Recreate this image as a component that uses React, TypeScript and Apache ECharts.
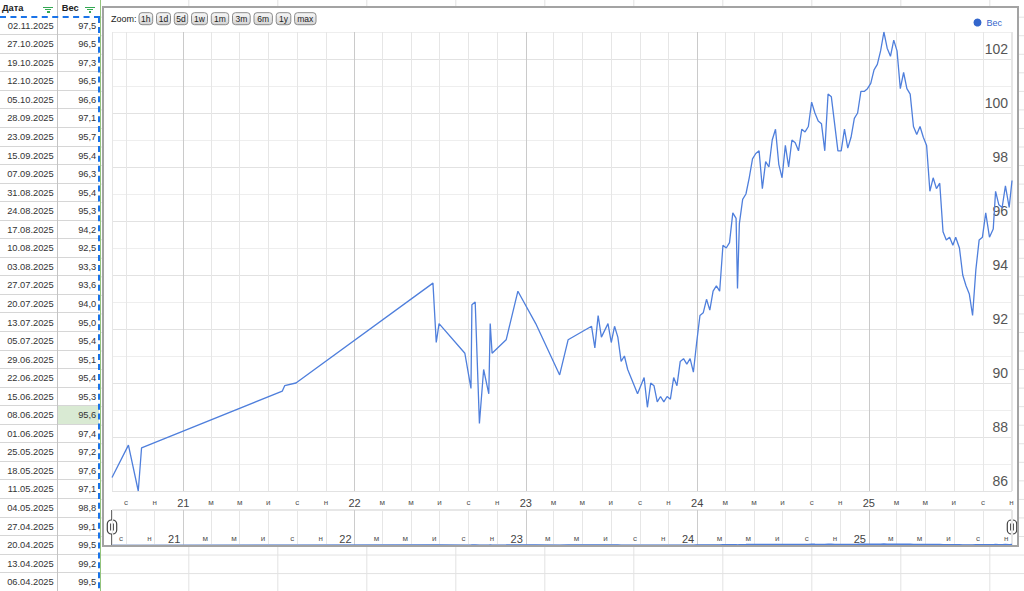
import React, { useEffect, useRef } from "react";
import * as echarts from "echarts";

const FONT = 'Arial, "Liberation Sans", sans-serif';

// точки по годам (дата, вес)
const dates2020 = ["2020-08-02", "2020-09-06", "2020-09-27", "2020-10-04"];
const weights2020 = [86.5, 87.7, 86.0, 87.6];

const dates2021 = ["2021-07-31", "2021-08-05", "2021-08-29"];
const weights2021 = [89.7, 89.9, 90.0];

const dates2022 = [
    "2022-06-17", "2022-06-24", "2022-06-30", "2022-08-24", "2022-09-06", "2022-09-08", "2022-09-15",
    "2022-09-24", "2022-10-03", "2022-10-14", "2022-10-17", "2022-10-21", "2022-11-20", "2022-12-15",
];
const weights2022 = [93.7, 91.5, 92.2, 91.1, 89.8, 92.9, 93.0, 88.5, 90.5, 89.6, 92.2, 91.1, 91.6, 93.4];

const dates2023 = [
    "2023-01-22", "2023-03-14", "2023-04-01", "2023-05-21", "2023-05-28", "2023-06-04", "2023-06-11",
    "2023-06-25", "2023-07-02", "2023-07-09", "2023-07-16", "2023-07-23", "2023-07-30", "2023-08-06",
    "2023-08-27", "2023-09-10", "2023-09-17", "2023-09-24", "2023-10-01", "2023-10-08", "2023-10-15",
    "2023-10-22", "2023-10-29", "2023-11-05", "2023-11-12", "2023-11-19", "2023-11-26", "2023-12-03",
    "2023-12-10", "2023-12-17", "2023-12-24", "2023-12-31",
];
const weights2023 = [
    92.2, 90.3, 91.6, 92.1, 91.3, 92.5, 91.7, 92.2, 91.5, 92.1, 91.7, 90.8, 91.0, 90.5, 89.6, 90.2,
    89.1, 90.0, 89.9, 89.3, 89.5, 89.3, 89.5, 89.4, 90.2, 89.9, 90.8, 90.9, 90.7, 90.9, 90.4, 91.5,
];

const dates2024 = [
    "2024-01-07", "2024-01-14", "2024-01-21", "2024-01-28", "2024-02-04", "2024-02-11", "2024-02-18",
    "2024-02-25", "2024-03-03", "2024-03-10", "2024-03-17", "2024-03-24", "2024-03-27", "2024-03-31",
    "2024-04-07", "2024-04-14", "2024-04-21", "2024-04-28", "2024-05-05", "2024-05-12", "2024-05-19",
    "2024-05-26", "2024-06-02", "2024-06-09", "2024-06-16", "2024-06-23", "2024-06-30", "2024-07-07",
    "2024-07-14", "2024-07-21", "2024-07-28", "2024-08-04", "2024-08-11", "2024-08-18", "2024-08-25",
    "2024-09-01", "2024-09-08", "2024-09-15", "2024-09-22", "2024-09-29", "2024-10-06", "2024-10-13",
    "2024-10-20", "2024-10-27", "2024-11-03", "2024-11-10", "2024-11-17", "2024-11-24", "2024-12-01",
    "2024-12-08", "2024-12-15", "2024-12-22", "2024-12-29",
];
const weights2024 = [
    92.5, 92.6, 93.1, 92.7, 93.4, 93.6, 93.4, 95.1, 95.0, 95.2, 96.3, 96.1, 93.5, 95.9, 96.8, 97.0,
    97.6, 98.3, 98.5, 98.6, 97.2, 98.2, 98.0, 99.0, 99.4, 98.1, 97.6, 98.8, 98.0, 99.0, 98.9, 98.6,
    99.4, 99.3, 99.5, 100.4, 100.0, 99.7, 99.6, 98.6, 100.7, 100.6, 99.6, 98.6, 98.6, 99.4, 98.7,
    99.1, 99.8, 100.0, 100.8, 100.8, 100.9,
];

const dates2025 = [
    "2025-01-05", "2025-01-12", "2025-01-19", "2025-01-26", "2025-02-02", "2025-02-09", "2025-02-16",
    "2025-02-23", "2025-03-02", "2025-03-09", "2025-03-16", "2025-03-23", "2025-03-30",
    "2025-04-06", "2025-04-13", "2025-04-20", "2025-04-27", "2025-05-04", "2025-05-11", "2025-05-18",
    "2025-05-25", "2025-06-01", "2025-06-08", "2025-06-15", "2025-06-22", "2025-06-29", "2025-07-05",
    "2025-07-13", "2025-07-20", "2025-07-27", "2025-08-03", "2025-08-10", "2025-08-17", "2025-08-24",
    "2025-08-31", "2025-09-07", "2025-09-15", "2025-09-23", "2025-09-28", "2025-10-05", "2025-10-12",
    "2025-10-19", "2025-10-27", "2025-11-02",
];
const weights2025 = [
    101.1, 101.6, 101.8, 102.3, 103.0, 102.4, 102.1, 102.7, 102.3, 100.9, 101.5, 100.9, 100.7,
    99.5, 99.2, 99.5, 99.1, 98.8, 97.1, 97.6, 97.2, 97.4, 95.6, 95.3, 95.4, 95.1, 95.4,
    95.0, 94.0, 93.6, 93.3, 92.5, 94.2, 95.3, 95.4, 96.3, 95.4, 95.7, 97.1, 96.6, 96.5,
    97.3, 96.5, 97.5,
];

const dates = [...dates2020, ...dates2021, ...dates2022, ...dates2023, ...dates2024, ...dates2025];
const weights = [...weights2020, ...weights2021, ...weights2022, ...weights2023, ...weights2024, ...weights2025];

const seriesName = "Вес";
const years = [2021, 2022, 2023, 2024, 2025];
const monthLetters = ["я", "ф", "м", "а", "м", "и", "и", "а", "с", "о", "н", "д"];
const zoomButtons = ["1h", "1d", "5d", "1w", "1m", "3m", "6m", "1y", "max"];
const tableRowCount = 31;
const highlightDate = "2025-06-08";

const LINE = "#4f7fdc";

const ts = (s: string) => {
    const [y, m, d] = s.split("-").map(Number);
    return new Date(y, m - 1, d).getTime();
};
const fmtDate = (s: string) => s.split("-").reverse().join(".");
const fmtWeight = (v: number) => v.toFixed(1).replace(".", ",");
const fmtTick = (v: number) => {
    const d = new Date(v);
    const m = d.getMonth();
    return m === 0 ? `{y|${String(d.getFullYear()).slice(2)}}` : `{m|${monthLetters[m]}}`;
};

const Chart: React.FC = () => {
    const chartRef = useRef<HTMLDivElement>(null);

    useEffect(() => {
        if (!chartRef.current) return;
        const chart = echarts.init(chartRef.current, null, { renderer: "svg" });

        const data = dates.map((d, i) => [ts(d), weights[i]]);
        const yearLines = years.map((y) => ({ xAxis: new Date(y, 0, 1).getTime() }));

        const rich = {
            y: { fontSize: 11, color: "#444", lineHeight: 11, fontFamily: FONT },
            m: { fontSize: 8, color: "#555", lineHeight: 11, fontFamily: FONT },
        };
        const xBase = {
            type: "time",
            min: ts(dates[0]),
            max: ts(dates[dates.length - 1]),
            splitNumber: 26,
            axisLine: { show: false },
            axisTick: { show: false },
            splitLine: { show: true, lineStyle: { color: "#e6e6e6", width: 1 } },
        };

        // кнопки и ручки навигатора
        const btnGrad = new echarts.graphic.LinearGradient(0, 0, 0, 1, [
            { offset: 0, color: "#f8f8f8" },
            { offset: 1, color: "#d4d4d4" },
        ]);
        const btnWidths = [13.7, 14, 13.4, 16, 17.4, 17.7, 18.4, 14.6, 21.4];
        const graphic: any[] = [
            {
                type: "text",
                x: 7,
                y: 10.8,
                style: { text: "Zoom:", fontSize: 9, fontFamily: FONT, fill: "#222", verticalAlign: "middle" },
            },
        ];
        let bx = 35;
        zoomButtons.forEach((label, i) => {
            const w = btnWidths[i];
            graphic.push({
                type: "rect",
                shape: { x: bx, y: 4.7, width: w, height: 12, r: 3 },
                style: { fill: btnGrad, stroke: "#8a8a8a", lineWidth: 1 },
            });
            graphic.push({
                type: "text",
                x: bx + w / 2,
                y: 11,
                style: {
                    text: label, fontSize: 8.5, fontFamily: FONT, fill: "#222",
                    align: "center", verticalAlign: "middle",
                },
            });
            bx += w + 3.8;
        });
        [8, 908].forEach((hx) => {
            graphic.push({ type: "line", shape: { x1: hx, y1: 502, x2: hx, y2: 537 }, style: { stroke: "#444", lineWidth: 1.5 } });
            graphic.push({
                type: "rect",
                shape: { x: hx - 4.7, y: 512, width: 9.4, height: 14, r: 4 },
                style: { fill: "#fff", stroke: "#444", lineWidth: 1.2 },
            });
            graphic.push({ type: "line", shape: { x1: hx - 1.4, y1: 515.5, x2: hx - 1.4, y2: 522.5 }, style: { stroke: "#444", lineWidth: 1 } });
            graphic.push({ type: "line", shape: { x1: hx + 1.4, y1: 515.5, x2: hx + 1.4, y2: 522.5 }, style: { stroke: "#444", lineWidth: 1 } });
        });

        const option = {
            animation: false,
            textStyle: { fontFamily: FONT },
            legend: {
                data: [{ name: seriesName, itemStyle: { color: "#3366cc" } }],
                right: 10,
                top: 5,
                icon: "circle",
                itemWidth: 8,
                itemHeight: 8,
                textStyle: { fontSize: 9, color: "#3366cc", fontFamily: FONT },
                selectedMode: false,
            },
            grid: [
                { left: 8, top: 24, width: 900, height: 459 },
                { left: 8, top: 502, width: 900, height: 35, show: true, borderColor: "#cfcfcf", borderWidth: 1 },
            ],
            xAxis: [
                {
                    ...xBase,
                    gridIndex: 0,
                    axisLabel: { margin: 6, formatter: fmtTick, rich },
                },
                {
                    ...xBase,
                    gridIndex: 1,
                    axisLabel: { inside: true, margin: 1, align: "right", padding: [0, 3, 0, 0], formatter: fmtTick, rich },
                },
            ],
            yAxis: [
                {
                    type: "value",
                    gridIndex: 0,
                    position: "right",
                    min: 86,
                    max: 103,
                    interval: 1,
                    axisLine: { show: false },
                    axisTick: { show: false },
                    axisLabel: {
                        inside: true,
                        margin: 4,
                        fontSize: 14,
                        color: "#555",
                        verticalAlign: "bottom",
                        padding: [0, 0, 3, 0],
                        formatter: (v: number) => (v % 2 === 0 ? String(v) : ""),
                    },
                    splitLine: { lineStyle: { color: ["#e2e2e2", "#eeeeee"], width: 1 } },
                },
                { type: "value", gridIndex: 1, min: 92.6, max: 500, show: false },
            ],
            series: [
                {
                    name: seriesName,
                    type: "line",
                    data,
                    symbol: "none",
                    showSymbol: false,
                    lineStyle: { color: LINE, width: 1.3 },
                    itemStyle: { color: "#3366cc" },
                    z: 3,
                    markLine: {
                        z: 1,
                        silent: true,
                        symbol: ["none", "none"],
                        label: { show: false },
                        lineStyle: { color: "#cacaca", type: "solid", width: 1 },
                        data: yearLines,
                    },
                },
                {
                    name: "navigator",
                    type: "line",
                    xAxisIndex: 1,
                    yAxisIndex: 1,
                    data,
                    symbol: "none",
                    showSymbol: false,
                    lineStyle: { color: LINE, width: 1.5 },
                    markLine: {
                        z: 1,
                        silent: true,
                        symbol: ["none", "none"],
                        label: { show: false },
                        lineStyle: { color: "#cccccc", type: "solid", width: 1 },
                        data: yearLines,
                    },
                },
            ],
            graphic: { elements: graphic },
        };

        chart.setOption(option as any);

        return () => {
            chart.dispose();
        };
    }, []);

    return <div ref={chartRef} style={{ width: 913, height: 537 }} />;
};

const FilterIcon: React.FC<{ left: number }> = ({ left }) => {
    const bar = (l: number, t: number, w: number) => (
        <div style={{ position: "absolute", left: l, top: t, width: w, height: 1.3, background: "#34a853" }} />
    );
    return (
        <div style={{ position: "absolute", left, top: 6.6, width: 10, height: 6 }}>
            {bar(0, 0, 10)}
            {bar(2, 2.4, 6)}
            {bar(3.7, 4.8, 2.6)}
        </div>
    );
};

const ROW_H = 18.55;
const HEAD_H = 16.7;

const App: React.FC = () => {
    const rows = dates
        .map((d, i) => ({ d, w: weights[i] }))
        .slice(-tableRowCount)
        .reverse();

    const cellText: React.CSSProperties = {
        position: "absolute",
        top: 0,
        height: ROW_H,
        lineHeight: `${ROW_H}px`,
        fontSize: 9.3,
        color: "#333",
        textAlign: "right",
        boxSizing: "border-box",
        borderBottom: "1px solid #d6d6d6",
    };

    return (
        <div
            style={{
                position: "fixed",
                left: 0,
                top: 0,
                width: 1024,
                height: 591,
                overflow: "hidden",
                background: "#fff",
                fontFamily: FONT,
            }}
        >
            {/* сетка листа */}
            <div
                style={{
                    position: "absolute",
                    left: 101,
                    top: 0,
                    width: 923,
                    height: 591,
                    backgroundImage:
                        "linear-gradient(to right, #e2e2e2 0, #e2e2e2 1px, transparent 1px), linear-gradient(to bottom, #e2e2e2 0, #e2e2e2 1px, transparent 1px)",
                    backgroundSize: `89px 100%, 100% ${ROW_H}px`,
                    backgroundPosition: `87.3px 0, 0 ${HEAD_H}px`,
                }}
            />

            {/* заголовок */}
            <div style={{ position: "absolute", left: 2, top: 0, height: HEAD_H, lineHeight: `${HEAD_H}px`, fontSize: 9.3, fontWeight: "bold", color: "#222" }}>
                Дата
            </div>
            <FilterIcon left={43.3} />
            <div style={{ position: "absolute", left: 61.7, top: 0, height: HEAD_H, lineHeight: `${HEAD_H}px`, fontSize: 9.3, fontWeight: "bold", color: "#222" }}>
                Вес
            </div>
            <FilterIcon left={85} />

            {/* строки */}
            {rows.map((r, i) => (
                <div key={r.d} style={{ position: "absolute", left: 0, top: HEAD_H + i * ROW_H, width: 100, height: ROW_H }}>
                    <div style={{ ...cellText, left: 0, width: 57.3, paddingRight: 3.6 }}>{fmtDate(r.d)}</div>
                    <div
                        style={{
                            ...cellText,
                            left: 57.3,
                            width: 42,
                            paddingRight: 3,
                            background: r.d === highlightDate ? "#d9ead3" : "transparent",
                        }}
                    >
                        {fmtWeight(r.w)}
                    </div>
                </div>
            ))}

            {/* линии столбцов и выделение */}
            <div style={{ position: "absolute", left: 57.3, top: 0, width: 1, height: 591, background: "#c4c4c4" }} />
            <div style={{ position: "absolute", left: 100, top: 0, width: 1, height: 591, background: "#93c47d" }} />
            <div style={{ position: "absolute", left: 0, top: HEAD_H - 1, width: 100, height: 0, borderTop: "2px dashed #1a73e8" }} />
            <div style={{ position: "absolute", left: 98, top: HEAD_H, width: 0, height: 591, borderLeft: "2px dashed #1a73e8" }} />

            {/* диаграмма */}
            <div
                style={{
                    position: "absolute",
                    left: 102,
                    top: 6,
                    width: 917,
                    height: 541,
                    border: "2px solid #a3a3a3",
                    boxSizing: "border-box",
                    background: "#fff",
                }}
            >
                <Chart />
            </div>
        </div>
    );
};

export default App;
